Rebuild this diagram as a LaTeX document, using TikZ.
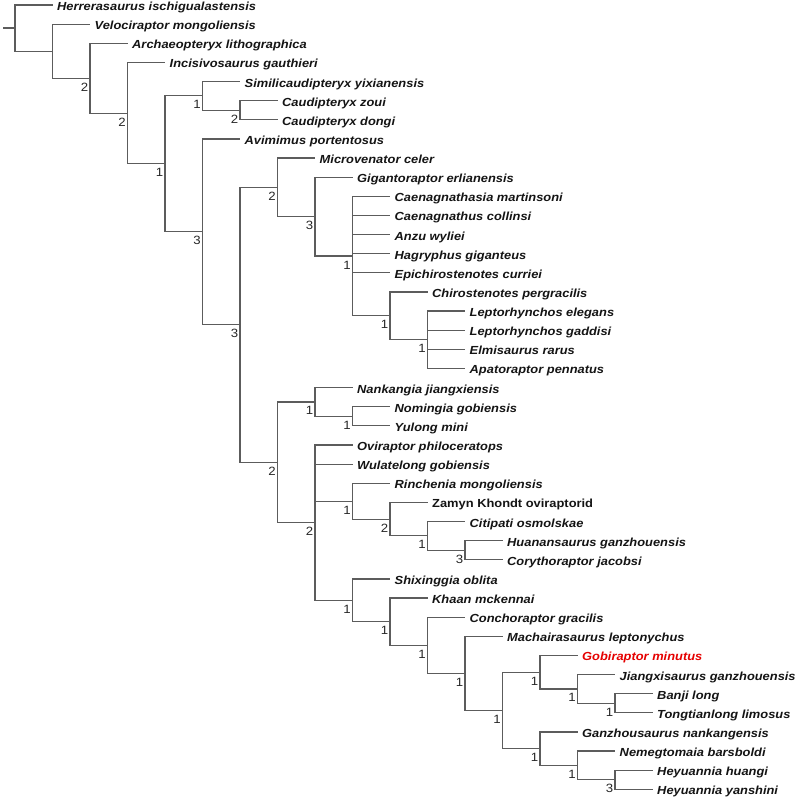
\documentclass[tikz,border=0pt]{standalone}
\usepackage{fontspec}
\setmainfont{Liberation Sans}[FakeStretch=1.10]
\begin{document}
\begin{tikzpicture}[x=1pt,y=-1pt,
  br/.style={draw=black!64,line width=1.25pt},
  tax/.style={anchor=base west,inner sep=0pt,font=\fontsize{11.7}{13}\selectfont\bfseries\itshape,text=black!92},
  taxup/.style={tax,font=\fontsize{11.7}{13}\selectfont\bfseries},
  taxred/.style={tax,text=red!90!black},
  supp/.style={anchor=base east,inner sep=0pt,font=\fontsize{12}{13}\selectfont,text=black!85}]
\useasboundingbox (0,0) rectangle (800,800);
\newcommand\mkc[3]{\coordinate (#1) at ({15+37.5*(#2)},{5+19.13*(#3)});}
\newcommand\mkleaf[5][tax]{\coordinate (#2) at ({15+37.5*(#3)},{5+19.13*(#4)});
  \node[#1] (#2-t) at ([xshift=4.5pt,yshift=-5.5pt]#2) {#5};}
\newcommand\supp[2]{\node[supp] (#1-s) at ([xshift=-1.5pt,yshift=-13pt]#1) {#2};}
% internal nodes
\mkc{root}{0}{1.2065}
\mkc{n1}{1}{2.413}
\mkc{n2}{2}{3.8261}
\mkc{n3}{3}{5.6522}
\mkc{n4}{4}{8.3044}
\mkc{cau5}{5}{4.75}
\mkc{cau6}{6}{5.5}
\mkc{avi5}{5}{11.8589}
\mkc{m6}{6}{16.7178}
\mkc{cae7}{7}{9.53125}
\mkc{gig8}{8}{11.0625}
\mkc{cp9}{9}{13.125}
\mkc{chi10}{10}{16.25}
\mkc{lep11}{11}{17.5}
\mkc{ovi7}{7}{23.9043}
\mkc{nan8}{8}{20.75}
\mkc{nom9}{9}{21.5}
\mkc{opo8}{8}{27.0586}
\mkc{rin9}{9}{25.9375}
\mkc{zam10}{10}{26.875}
\mkc{cit11}{11}{27.75}
\mkc{hua12}{12}{28.5}
\mkc{shi9}{9}{31.1171875}
\mkc{kha10}{10}{32.234375}
\mkc{con11}{11}{33.46875}
\mkc{mac12}{12}{34.9375}
\mkc{x13}{13}{36.875}
\mkc{gob14}{14}{34.875}
\mkc{jia15}{15}{35.75}
\mkc{ban16}{16}{36.5}
\mkc{gan14}{14}{38.875}
\mkc{nem15}{15}{39.75}
\mkc{hey16}{16}{40.5}
\coordinate (stub) at (3,{5+19.13*1.2065});
% leaves
\mkleaf{t0}{1}{0}{Herrerasaurus ischigualastensis}
\mkleaf{t1}{2}{1}{Velociraptor mongoliensis}
\mkleaf{t2}{3}{2}{Archaeopteryx lithographica}
\mkleaf{t3}{4}{3}{Incisivosaurus gauthieri}
\mkleaf{t4}{6}{4}{Similicaudipteryx yixianensis}
\mkleaf{t5}{7}{5}{Caudipteryx zoui}
\mkleaf{t6}{7}{6}{Caudipteryx dongi}
\mkleaf{t7}{6}{7}{Avimimus portentosus}
\mkleaf{t8}{8}{8}{Microvenator celer}
\mkleaf{t9}{9}{9}{Gigantoraptor erlianensis}
\mkleaf{t10}{10}{10}{Caenagnathasia martinsoni}
\mkleaf{t11}{10}{11}{Caenagnathus collinsi}
\mkleaf{t12}{10}{12}{Anzu wyliei}
\mkleaf{t13}{10}{13}{Hagryphus giganteus}
\mkleaf{t14}{10}{14}{Epichirostenotes curriei}
\mkleaf{t15}{11}{15}{Chirostenotes pergracilis}
\mkleaf{t16}{12}{16}{Leptorhynchos elegans}
\mkleaf{t17}{12}{17}{Leptorhynchos gaddisi}
\mkleaf{t18}{12}{18}{Elmisaurus rarus}
\mkleaf{t19}{12}{19}{Apatoraptor pennatus}
\mkleaf{t20}{9}{20}{Nankangia jiangxiensis}
\mkleaf{t21}{10}{21}{Nomingia gobiensis}
\mkleaf{t22}{10}{22}{Yulong mini}
\mkleaf{t23}{9}{23}{Oviraptor philoceratops}
\mkleaf{t24}{9}{24}{Wulatelong gobiensis}
\mkleaf{t25}{10}{25}{Rinchenia mongoliensis}
\mkleaf[taxup]{t26}{11}{26}{Zamyn Khondt oviraptorid}
\mkleaf{t27}{12}{27}{Citipati osmolskae}
\mkleaf{t28}{13}{28}{Huanansaurus ganzhouensis}
\mkleaf{t29}{13}{29}{Corythoraptor jacobsi}
\mkleaf{t30}{10}{30}{Shixinggia oblita}
\mkleaf{t31}{11}{31}{Khaan mckennai}
\mkleaf{t32}{12}{32}{Conchoraptor gracilis}
\mkleaf{t33}{13}{33}{Machairasaurus leptonychus}
\mkleaf[taxred]{t34}{15}{34}{Gobiraptor minutus}
\mkleaf{t35}{16}{35}{Jiangxisaurus ganzhouensis}
\mkleaf{t36}{17}{36}{Banji long}
\mkleaf{t37}{17}{37}{Tongtianlong limosus}
\mkleaf{t38}{15}{38}{Ganzhousaurus nankangensis}
\mkleaf{t39}{16}{39}{Nemegtomaia barsboldi}
\mkleaf{t40}{17}{40}{Heyuannia huangi}
\mkleaf{t41}{17}{41}{Heyuannia yanshini}
% branches
\draw[br] (stub) -- (root);
\foreach \p/\c in {root/t0,root/n1,n1/t1,n1/n2,n2/t2,n2/n3,n3/t3,n3/n4,
  n4/cau5,n4/avi5,cau5/t4,cau5/cau6,cau6/t5,cau6/t6,avi5/t7,avi5/m6,
  m6/cae7,m6/ovi7,cae7/t8,cae7/gig8,gig8/t9,gig8/cp9,
  cp9/t10,cp9/t11,cp9/t12,cp9/t13,cp9/t14,cp9/chi10,chi10/t15,chi10/lep11,
  lep11/t16,lep11/t17,lep11/t18,lep11/t19,
  ovi7/nan8,ovi7/opo8,nan8/t20,nan8/nom9,nom9/t21,nom9/t22,
  opo8/t23,opo8/t24,opo8/rin9,opo8/shi9,rin9/t25,rin9/zam10,zam10/t26,zam10/cit11,
  cit11/t27,cit11/hua12,hua12/t28,hua12/t29,
  shi9/t30,shi9/kha10,kha10/t31,kha10/con11,con11/t32,con11/mac12,mac12/t33,mac12/x13,
  x13/gob14,x13/gan14,gob14/t34,gob14/jia15,jia15/t35,jia15/ban16,ban16/t36,ban16/t37,
  gan14/t38,gan14/nem15,nem15/t39,nem15/hey16,hey16/t40,hey16/t41}
  {\draw[br] (\p) |- (\c);}
% support values
\supp{n2}{2}
\supp{n3}{2}
\supp{n4}{1}
\supp{cau5}{1}
\supp{cau6}{2}
\supp{avi5}{3}
\supp{m6}{3}
\supp{cae7}{2}
\supp{gig8}{3}
\supp{cp9}{1}
\supp{chi10}{1}
\supp{lep11}{1}
\supp{ovi7}{2}
\supp{nan8}{1}
\supp{nom9}{1}
\supp{opo8}{2}
\supp{rin9}{1}
\supp{zam10}{2}
\supp{cit11}{1}
\supp{hua12}{3}
\supp{shi9}{1}
\supp{kha10}{1}
\supp{con11}{1}
\supp{mac12}{1}
\supp{x13}{1}
\supp{gob14}{1}
\supp{jia15}{1}
\supp{ban16}{1}
\supp{gan14}{1}
\supp{nem15}{1}
\supp{hey16}{3}
\end{tikzpicture}
\end{document}
